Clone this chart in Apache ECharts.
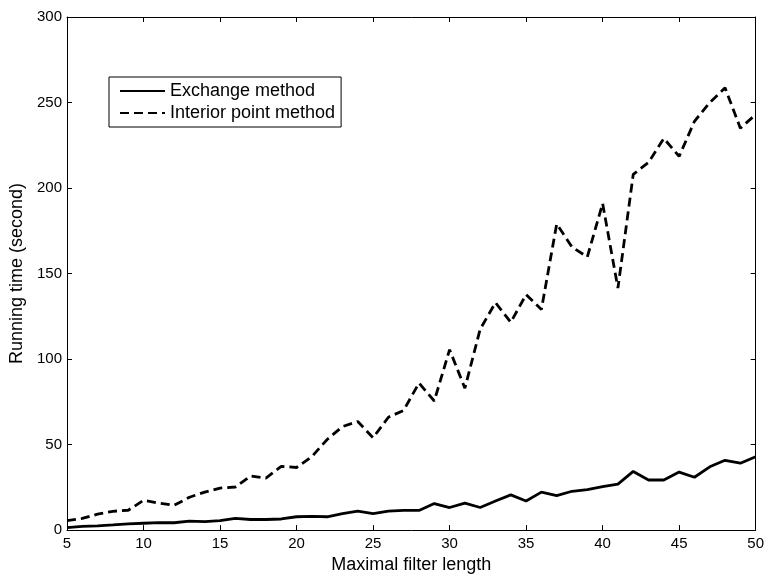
<!DOCTYPE html>
<html>
<head>
<meta charset="utf-8">
<script src="https://cdn.jsdelivr.net/npm/echarts@6/dist/echarts.min.js"></script>
<style>
html,body{margin:0;padding:0;background:#fff;}
#chart{width:767px;height:579px;}
</style>
</head>
<body>
<div id="chart"></div>
<script>
// Maximal filter length (x)
var filterLengths = [5,6,7,8,9,10,11,12,13,14,15,16,17,18,19,20,21,22,23,24,25,26,27,28,29,30,31,32,33,34,35,36,37,38,39,40,41,42,43,44,45,46,47,48,49,50];
// Running time (second), Exchange method
var exchangeTimes = [1.5,2.2,2.5,3.0,3.6,4.0,4.4,4.3,5.2,5.0,5.5,6.9,6.2,6.2,6.5,7.8,8.0,7.8,9.7,11.1,9.7,11.1,11.5,11.5,15.5,13.2,15.8,13.2,17.0,20.6,17.0,22.2,20.2,22.7,23.7,25.4,26.9,34.3,29.3,29.3,33.9,30.9,37.0,40.8,39.1,42.9];
// Running time (second), Interior point method
var interiorTimes = [5.5,6.8,9.3,11.0,11.6,17.4,15.8,14.5,19.2,22.2,24.6,25.2,31.7,30.4,37.3,36.6,43.0,53.0,60.5,63.5,54.0,66.0,70.0,86.0,75.5,105.5,83.0,117.5,133.0,121.5,137.7,129.0,179.0,165.5,159.7,191.0,141.5,208.0,215.0,229.0,218.5,239.0,250.0,258.6,235.0,243.0];
var seriesNames = ['Exchange method','Interior point method'];
var xTicks = {min:5, max:50, interval:5};
var yTicks = {min:0, max:300, interval:50};
var xName = 'Maximal filter length';
var yName = 'Running time (second)';

var FONT = 'Liberation Sans, Arial, Helvetica, sans-serif';
function pairs(ys){ return filterLengths.map(function(x,i){ return [x, ys[i]]; }); }

var chart = echarts.init(document.getElementById('chart'), null, {renderer:'canvas'});
var axisLineStyle = {color:'#000', width:1};
chart.setOption({
  animation:false,
  backgroundColor:'#fff',
  grid:{left:67, right:9, top:17, bottom:40, containLabel:false},
  legend:{
    left:109, top:77,
    orient:'vertical',
    data:seriesNames,
    itemWidth:45, itemHeight:14, itemGap:4,
    padding:[5,6,5,10],
    borderColor:'#000', borderWidth:1,
    backgroundColor:'#fff',
    itemStyle:{opacity:0},
    textStyle:{fontFamily:FONT, fontSize:18, color:'#000'}
  },
  xAxis:[{
    type:'value', min:xTicks.min, max:xTicks.max, interval:xTicks.interval,
    name:xName, nameLocation:'middle', nameGap:19,
    nameTextStyle:{fontFamily:FONT, fontSize:18, color:'#000'},
    axisLine:{show:true, onZero:false, lineStyle:axisLineStyle},
    axisTick:{show:true, inside:true, length:5, lineStyle:axisLineStyle},
    axisLabel:{fontFamily:FONT, fontSize:15, color:'#000', margin:6},
    splitLine:{show:false}
  },{
    type:'value', position:'top', min:xTicks.min, max:xTicks.max, interval:xTicks.interval,
    axisLine:{show:true, onZero:false, lineStyle:axisLineStyle},
    axisTick:{show:true, inside:true, length:5, lineStyle:axisLineStyle},
    axisLabel:{show:false}, splitLine:{show:false}
  }],
  yAxis:[{
    type:'value', min:yTicks.min, max:yTicks.max, interval:yTicks.interval,
    name:yName, nameLocation:'middle', nameGap:39, nameRotate:90,
    nameTextStyle:{fontFamily:FONT, fontSize:18, color:'#000'},
    axisLine:{show:true, onZero:false, lineStyle:axisLineStyle},
    axisTick:{show:true, inside:true, length:5, lineStyle:axisLineStyle},
    axisLabel:{fontFamily:FONT, fontSize:15, color:'#000', margin:5},
    splitLine:{show:false}
  },{
    type:'value', position:'right', min:yTicks.min, max:yTicks.max, interval:yTicks.interval,
    axisLine:{show:true, onZero:false, lineStyle:axisLineStyle},
    axisTick:{show:true, inside:true, length:5, lineStyle:axisLineStyle},
    axisLabel:{show:false}, splitLine:{show:false}
  }],
  series:[{
    name:seriesNames[0], type:'line', xAxisIndex:0, yAxisIndex:0,
    data:pairs(exchangeTimes), symbol:'none', showSymbol:false,
    lineStyle:{color:'#000', width:2.8, type:'solid'},
    itemStyle:{color:'#000'}
  },{
    name:seriesNames[1], type:'line', xAxisIndex:0, yAxisIndex:0,
    data:pairs(interiorTimes), symbol:'none', showSymbol:false,
    lineStyle:{color:'#000', width:2.8, type:[9,5]},
    itemStyle:{color:'#000'}
  }]
});
</script>
</body>
</html>
